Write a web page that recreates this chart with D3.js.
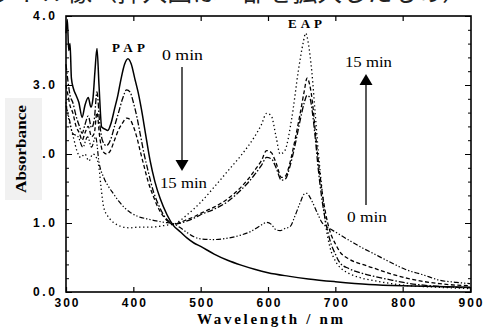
<!DOCTYPE html>
<html>
<head>
<meta charset="utf-8">
<script src="https://cdn.jsdelivr.net/npm/d3@7"></script>
<style>
  body { margin: 0; background: #fff; }
  svg { display: block; }
</style>
</head>
<body>
<div id="chart"></div>
<script>
// wavelength (nm) / absorbance
const wlSolid = [300, 302, 304, 306, 308, 311, 315, 319, 324, 328, 333, 337, 340, 343, 346, 349, 353, 358, 362, 367,
  372, 377, 382, 387, 392, 397, 402, 407, 412, 418, 425, 432, 440, 450, 459, 470, 480, 490, 500, 520,
  540, 560, 580, 600, 630, 660, 700, 750, 800, 850, 900];
const absSolid = [3.75, 3.95, 3.5, 3.6, 3.1, 2.95, 2.85, 2.75, 2.53, 2.7, 2.82, 2.68, 2.8, 3.2, 3.53, 3.0, 2.39, 2.36, 2.34, 2.45,
  2.65, 2.85, 3.1, 3.3, 3.38, 3.3, 3.1, 2.9, 2.65, 2.3, 1.9, 1.6, 1.35, 1.12, 0.97, 0.87, 0.78, 0.71, 0.66, 0.55,
  0.46, 0.39, 0.33, 0.28, 0.23, 0.19, 0.15, 0.11, 0.09, 0.08, 0.07];

const wlMid = [300, 303, 306, 310, 315, 320, 324, 328, 333, 338, 342, 346, 350, 354, 360, 366, 372, 378, 384, 390,
  395, 400, 405, 410, 416, 422, 430, 438, 446, 452, 459, 470, 480, 490, 500, 520, 540, 560, 570, 580,
  590, 598, 605, 612, 620, 626, 632, 640, 648, 654, 658, 662, 666, 670, 675, 680, 686, 692, 700, 707,
  720, 740, 756, 780, 806, 855, 900];
const absDashDot = [3.3, 3.05, 2.85, 2.75, 2.55, 2.4, 2.3, 2.42, 2.55, 2.38, 2.5, 2.9, 2.45, 2.2, 2.12, 2.2, 2.4, 2.6, 2.8, 2.93,
  2.9, 2.75, 2.55, 2.3, 2.0, 1.75, 1.45, 1.25, 1.1, 1.03, 0.98, 1.0, 1.03, 1.07, 1.12, 1.2, 1.31, 1.48, 1.58, 1.7,
  1.83, 1.95, 1.93, 1.8, 1.62, 1.64, 1.8, 2.12, 2.5, 2.75, 2.85, 2.82, 2.6, 2.25, 1.75, 1.35, 1.0, 0.75, 0.55, 0.42,
  0.34, 0.27, 0.23, 0.18, 0.13, 0.08, 0.06];
const absDashed = [3.0, 2.85, 2.7, 2.6, 2.4, 2.3, 2.2, 2.3, 2.4, 2.25, 2.3, 2.6, 2.25, 2.05, 2.0, 2.05, 2.2, 2.35, 2.45, 2.52,
  2.5, 2.4, 2.25, 2.05, 1.82, 1.6, 1.38, 1.2, 1.08, 1.02, 0.98, 1.01, 1.05, 1.09, 1.14, 1.23, 1.35, 1.52, 1.63, 1.76,
  1.9, 2.05, 2.02, 1.87, 1.66, 1.68, 1.85, 2.2, 2.6, 2.92, 3.1, 3.0, 2.75, 2.35, 1.88, 1.48, 1.12, 0.88, 0.7, 0.58,
  0.48, 0.4, 0.35, 0.27, 0.2, 0.12, 0.09];

const wlDashDotDot = [300, 305, 310, 318, 325, 332, 338, 344, 349, 356, 363, 370, 378, 386, 396, 408, 420, 434, 446, 459,
  470, 480, 490, 500, 520, 540, 558, 575, 590, 598, 605, 612, 618, 625, 633, 640, 648, 654, 658, 663,
  668, 673, 680, 690, 700, 710, 722, 740, 756, 780, 806, 830, 855, 880, 900];
const absDashDotDot = [2.7, 2.5, 2.3, 2.25, 2.1, 2.25, 2.1, 2.25, 1.88, 1.66, 1.53, 1.43, 1.32, 1.23, 1.15, 1.09, 1.06, 1.03, 1.01, 0.99,
  0.93, 0.86, 0.8, 0.77, 0.76, 0.78, 0.82, 0.88, 0.97, 1.01, 0.98, 0.9, 0.89, 0.92, 0.95, 1.1, 1.3, 1.42, 1.43, 1.36,
  1.26, 1.15, 1.01, 0.93, 0.87, 0.81, 0.74, 0.64, 0.56, 0.44, 0.32, 0.25, 0.17, 0.14, 0.12];

const wlDotted = [300, 304, 308, 312, 316, 322, 328, 334, 340, 345, 349, 352, 356, 362, 367, 375, 382, 395, 408, 425,
  438, 450, 459, 480, 500, 520, 540, 560, 580, 590, 598, 605, 612, 618, 625, 635, 645, 652, 656, 660,
  665, 670, 675, 680, 686, 692, 700, 710, 720, 740, 760, 800, 850, 900];
const absDotted = [2.75, 2.5, 2.35, 2.2, 2.05, 1.95, 2.0, 1.9, 2.0, 1.95, 1.8, 1.52, 1.23, 1.1, 1.04, 0.98, 0.95, 0.93, 0.94, 0.94,
  0.95, 0.97, 0.98, 1.12, 1.3, 1.52, 1.75, 1.98, 2.25, 2.42, 2.59, 2.55, 2.25, 2.0, 2.05, 2.5, 3.2, 3.6, 3.75, 3.6,
  3.2, 2.6, 2.0, 1.5, 0.95, 0.65, 0.45, 0.33, 0.27, 0.2, 0.16, 0.1, 0.07, 0.05];

const xTicks = [300, 400, 500, 600, 700, 800, 900];
const yTicks = [0, 1, 2, 3, 4];

const width = 486;
const height = 327;
const m = {left: 66, right: 471, top: 16, bottom: 292};

const x = d3.scaleLinear().domain([300, 900]).range([m.left, m.right - 1]);
const y = d3.scaleLinear().domain([0, 4]).range([m.bottom, m.top]);

const svg = d3.select('#chart').append('svg')
  .attr('width', width)
  .attr('height', height)
  .attr('font-family', '"Liberation Serif", "Times New Roman", serif');

// title line of the page, cut off at the top
svg.append('text')
  .attr('x', -56)
  .attr('y', 1)
  .attr('font-family', '"Noto Sans CJK JP", sans-serif')
  .attr('font-size', 25)
  .attr('fill', '#222')
  .text('スペクトル像（挿入図は一部を拡大したもの）');

// axes
const tickLabel = (sel, len) => sel.selectAll('text')
  .attr('font-size', 12)
  .attr('font-weight', 'bold')
  .attr('fill', '#000')
  .attr('textLength', len)
  .attr('lengthAdjust', 'spacing');

svg.append('g')
  .attr('transform', `translate(0,${m.bottom})`)
  .call(d3.axisBottom(x).tickValues(xTicks).tickSize(-5).tickPadding(6.5).tickFormat(d3.format('d')))
  .call((g) => g.select('.domain').remove())
  .call((g) => tickLabel(g, 24))
  .call((g) => g.selectAll('line').attr('stroke-width', 1.2));

svg.append('g')
  .attr('transform', `translate(0,${m.top})`)
  .call(d3.axisTop(x).tickValues(xTicks.slice(1, -1)).tickSize(-5).tickFormat(''))
  .call((g) => g.select('.domain').remove())
  .call((g) => g.selectAll('line').attr('stroke-width', 1.2));

const minorY = d3.range(0, 4.01, 0.2).filter((v) => Math.abs(v - Math.round(v)) > 0.01);

svg.append('g')
  .attr('transform', `translate(${m.left},0)`)
  .call(d3.axisLeft(y).tickValues(minorY).tickSize(-3).tickFormat(''))
  .call((g) => g.select('.domain').remove());

svg.append('g')
  .attr('transform', `translate(${m.left},0)`)
  .call(d3.axisLeft(y).tickValues(yTicks).tickSize(-6).tickPadding(11).tickFormat(d3.format('.1f')))
  .call((g) => g.select('.domain').remove())
  .call((g) => tickLabel(g, 22));

svg.append('g')
  .attr('transform', `translate(${m.right},0)`)
  .call(d3.axisRight(y).tickValues(minorY).tickSize(-3).tickFormat(''))
  .call((g) => g.select('.domain').remove());

svg.append('g')
  .attr('transform', `translate(${m.right},0)`)
  .call(d3.axisRight(y).tickValues(yTicks).tickSize(-6).tickFormat(''))
  .call((g) => g.select('.domain').remove());

// frame
svg.append('rect')
  .attr('x', m.left)
  .attr('y', m.top)
  .attr('width', m.right - m.left)
  .attr('height', m.bottom - m.top)
  .attr('fill', 'none')
  .attr('stroke', '#000')
  .attr('stroke-width', 1.6);

// faint box behind the y title (covers part of the 2.0 label in the scan)
svg.append('rect')
  .attr('x', 5)
  .attr('y', 98)
  .attr('width', 37)
  .attr('height', 102)
  .attr('fill', '#f1f1f1');

svg.append('text')
  .attr('transform', 'translate(26,149) rotate(-90)')
  .attr('text-anchor', 'middle')
  .attr('font-size', 15)
  .attr('font-weight', 'bold')
  .attr('textLength', 88)
  .attr('lengthAdjust', 'spacingAndGlyphs')
  .text('Absorbance');

svg.append('text')
  .attr('x', 270)
  .attr('y', 324)
  .attr('text-anchor', 'middle')
  .attr('font-size', 15)
  .attr('font-weight', 'bold')
  .attr('textLength', 146)
  .attr('lengthAdjust', 'spacing')
  .text('Wavelength / nm');

// spectra
const series = [
  {wl: wlSolid, abs: absSolid, dash: null, w: 1.5},
  {wl: wlMid, abs: absDashDot, dash: '6,2,1.5,2', w: 1.3},
  {wl: wlMid, abs: absDashed, dash: '4,2.5', w: 1.3},
  {wl: wlDashDotDot, abs: absDashDotDot, dash: '5,2,1.3,2,1.3,2', w: 1.2},
  {wl: wlDotted, abs: absDotted, dash: '1.3,2.7', w: 1.3},
];

const line = d3.line()
  .x((d) => x(d[0]))
  .y((d) => y(d[1]))
  .curve(d3.curveMonotoneX);

svg.append('g')
  .attr('fill', 'none')
  .attr('stroke', '#000')
  .selectAll('path')
  .data(series)
  .join('path')
  .attr('d', (s) => line(d3.zip(s.wl, s.abs)))
  .attr('stroke-width', (s) => s.w)
  .attr('stroke-dasharray', (s) => s.dash);

// annotations
const label = (tx, ty, txt, len, bold) => svg.append('text')
  .attr('x', tx)
  .attr('y', ty)
  .attr('font-size', bold ? 13 : 15)
  .attr('font-weight', bold ? 'bold' : 'normal')
  .attr('textLength', len)
  .attr('lengthAdjust', bold ? 'spacing' : 'spacingAndGlyphs')
  .text(txt);

label(112, 52, 'PAP', 33, true);
label(288, 28, 'EAP', 34, true);
label(162, 60, '0 min', 41, false);
label(160, 188, '15 min', 47, false);
label(345, 67, '15 min', 47, false);
label(347, 222, '0 min', 40, false);

const arrow = (ax, yFrom, yTo) => {
  const dir = yTo > yFrom ? 1 : -1;
  svg.append('line')
    .attr('x1', ax).attr('x2', ax)
    .attr('y1', yFrom).attr('y2', yTo - dir * 10)
    .attr('stroke', '#000')
    .attr('stroke-width', 1.3);
  svg.append('path')
    .attr('d', `M${ax - 6.5},${yTo - dir * 11}L${ax + 6.5},${yTo - dir * 11}L${ax},${yTo}Z`)
    .attr('fill', '#000');
};

arrow(182, 67, 171);
arrow(366, 205, 74);
</script>
</body>
</html>
